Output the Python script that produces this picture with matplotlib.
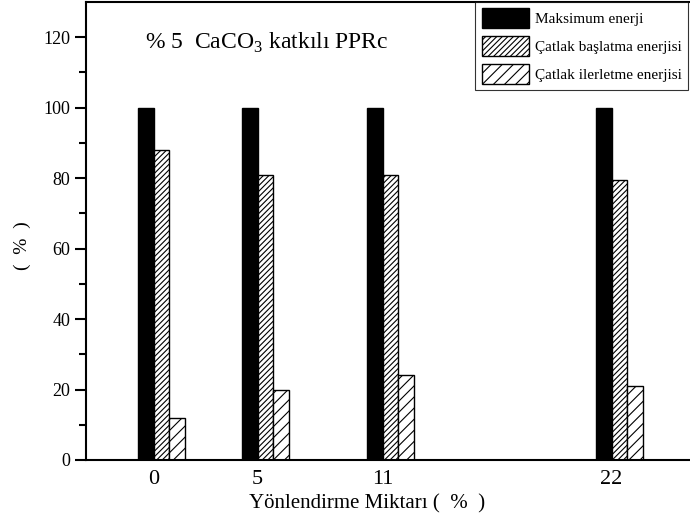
import matplotlib
matplotlib.use("Agg")
import matplotlib.pyplot as plt
import numpy as np

# Orientation amounts (%) and relative energies (%)
orientation = [0, 5, 11, 22]
max_energy = [100, 100, 100, 100]
crack_init = [88, 81, 81, 79.5]
crack_prop = [12, 20, 24, 21]
labels = ["Maksimum enerji", "Çatlak başlatma enerjisi", "Çatlak ilerletme enerjisi"]

plt.rcParams["font.family"] = ["Liberation Serif", "DejaVu Serif"]
plt.rcParams["mathtext.fontset"] = "custom"
plt.rcParams["mathtext.rm"] = "Liberation Serif"
plt.rcParams["hatch.linewidth"] = 0.8

fig = plt.figure(figsize=(6.9, 5.14), dpi=100)
ax = fig.add_axes([86 / 690, 1 - 460 / 514, 1 - 86 / 690 + 0.01, (460 - 2) / 514])

w = 0.75
x = np.array(orientation, dtype=float)
ax.bar(x - w / 2, max_energy, width=w, color="black", edgecolor="black",
       linewidth=1, label=labels[0])
ax.bar(x + w / 2, crack_init, width=w, color="white", edgecolor="black",
       linewidth=1, hatch="//////", label=labels[1])
ax.bar(x + 3 * w / 2, crack_prop, width=w, color="white", edgecolor="black",
       linewidth=1, hatch="///", label=labels[2])

ax.set_xlim(-3.25, 26.1)
ax.set_ylim(0, 130)
ax.set_xticks(orientation)
ax.set_xticklabels([str(v) for v in orientation], fontsize=16)
ax.tick_params(axis="x", length=0, pad=7)
ax.set_yticks(np.arange(0, 121, 20))
ax.set_yticks(np.arange(10, 121, 20), minor=True)
ax.tick_params(axis="y", which="major", direction="out", length=8, width=1.5, labelsize=13)
ax.tick_params(axis="y", which="minor", direction="out", length=5, width=1.5)

for side in ("left", "bottom", "top"):
    ax.spines[side].set_linewidth(1.5)
ax.spines["right"].set_visible(False)

ax.set_xlabel("Yönlendirme Miktarı (  %  )", fontsize=15)
ax.xaxis.set_label_coords(0.46, -0.075)
ax.set_ylabel("(  %  )", fontsize=14)
ax.yaxis.set_label_coords(-0.09, 0.467)

ax.text(-0.43, 118.5, r"% 5  CaCO$_3$ katkılı PPRc", fontsize=17, va="center", ha="left")

leg = ax.legend(loc="lower right", bbox_to_anchor=(688 / 690, 1 - 90 / 514),
                bbox_transform=fig.transFigure, borderaxespad=0,
                fontsize=11, frameon=True, fancybox=False, edgecolor="black",
                handlelength=3.1, handleheight=1.6, handletextpad=0.4,
                labelspacing=0.55, borderpad=0.4)
leg.get_frame().set_linewidth(0.8)

fig.savefig("out.png", dpi=100)
